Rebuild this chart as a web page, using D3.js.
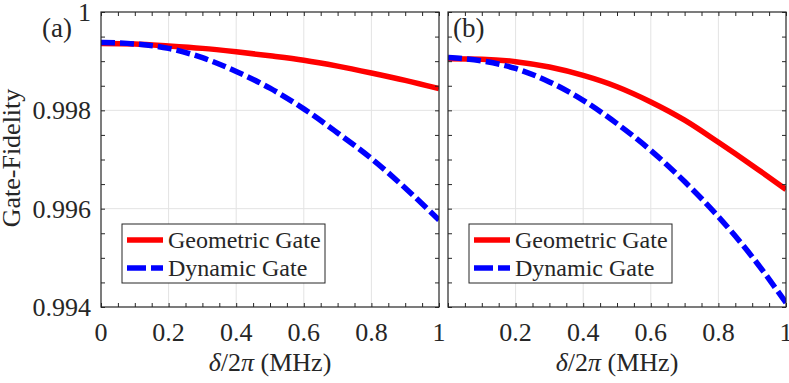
<!DOCTYPE html>
<html>
<head>
<meta charset="utf-8">
<script src="https://cdn.jsdelivr.net/npm/d3@7"></script>
<style>
  body { margin: 0; background: #fff; }
  svg { display: block; }
</style>
</head>
<body>
<div id="chart"></div>
<script>
// #### data
const detuning = [0, 0.1, 0.2, 0.3, 0.4, 0.5, 0.6, 0.7, 0.8, 0.9, 1.0];

// panel (a)
const geometricA = [0.99936, 0.99935, 0.99931, 0.99926, 0.99919, 0.99911, 0.99902, 0.99890, 0.99876, 0.99861, 0.99844];
const dynamicA   = [0.99938, 0.99935, 0.99926, 0.99907, 0.99879, 0.99845, 0.99803, 0.99754, 0.99702, 0.99642, 0.99577];

// panel (b)
const geometricB = [0.99905, 0.99904, 0.99899, 0.99888, 0.99871, 0.99848, 0.99817, 0.99780, 0.99735, 0.99688, 0.99639];
const dynamicB   = [0.999075, 0.999006, 0.998851, 0.998578, 0.998204, 0.997729, 0.997184, 0.996551, 0.995837, 0.995020, 0.994088];

const seriesNames = ['Geometric Gate', 'Dynamic Gate'];
const yTickLabels = ['0.994', '0.996', '0.998', '1'];
const xTickLabels = ['0', '0.2', '0.4', '0.6', '0.8', '1'];

// #### layout
const width = 789, height = 383;
const plotTop = 12, plotBottom = 307;
const panels = [
  { id: 'a', left: 101, right: 439, geo: geometricA, dyn: dynamicA, showY: true, showX0: true },
  { id: 'b', left: 448, right: 786, geo: geometricB, dyn: dynamicB, showY: false, showX0: false },
];
const colors = { geo: '#ff0000', dyn: '#0000ff' };
const axisColor = '#262626';
const fontSize = 26;
const legendFontSize = 24;
const lineWidth = 5.5;
const serif = "'Liberation Serif', 'DejaVu Serif', serif";

const svg = d3.select('#chart').append('svg')
  .attr('width', width)
  .attr('height', height)
  .attr('font-family', serif)
  .style('font-family', serif);

const y = d3.scaleLinear().domain([+yTickLabels[0], +yTickLabels[yTickLabels.length - 1]]).range([plotBottom, plotTop]);
const yMajor = yTickLabels.map(Number);
const yMinor = d3.range(0, 13).map(i => 0.994 + i * 0.0005);
const xMajor = xTickLabels.map(Number);
const xMinor = d3.range(0, 21).map(i => i * 0.05);

const addText = (sel, size = fontSize) => sel.append('text')
  .attr('font-family', serif)
  .attr('font-size', size)
  .attr('fill', axisColor);

panels.forEach(p => {
  const x = d3.scaleLinear().domain([0, 1]).range([p.left, p.right]);
  const g = svg.append('g');

  // gridlines at the major ticks
  g.selectAll('.gx').data(xMajor.slice(1, -1)).enter().append('line')
    .attr('x1', d => x(d)).attr('x2', d => x(d))
    .attr('y1', plotTop).attr('y2', plotBottom)
    .attr('stroke', '#e3e3e3').attr('stroke-width', 1);
  g.selectAll('.gy').data(yMajor.slice(1, -1)).enter().append('line')
    .attr('x1', p.left).attr('x2', p.right)
    .attr('y1', d => y(d)).attr('y2', d => y(d))
    .attr('stroke', '#e3e3e3').attr('stroke-width', 1);

  // curves, clipped to the axes box
  svg.append('clipPath').attr('id', 'clip-' + p.id)
    .append('rect').attr('x', p.left).attr('y', plotTop)
    .attr('width', p.right - p.left).attr('height', plotBottom - plotTop);

  const line = d3.line()
    .x((d, i) => x(detuning[i]))
    .y(d => y(d))
    .curve(d3.curveMonotoneX);

  const curves = g.append('g').attr('clip-path', `url(#clip-${p.id})`);
  curves.append('path').datum(p.geo)
    .attr('d', line)
    .attr('fill', 'none').attr('stroke', colors.geo).attr('stroke-width', lineWidth);
  curves.append('path').datum(p.dyn)
    .attr('d', line)
    .attr('fill', 'none').attr('stroke', colors.dyn).attr('stroke-width', lineWidth)
    .attr('stroke-dasharray', '14,5');

  // tick marks, inward, on all four sides
  const tickLen = 4;
  g.append('g').attr('transform', `translate(0,${plotBottom})`)
    .call(d3.axisTop(x).tickValues(xMinor).tickSize(tickLen).tickFormat(''));
  g.append('g').attr('transform', `translate(0,${plotTop})`)
    .call(d3.axisBottom(x).tickValues(xMinor).tickSize(tickLen).tickFormat(''));
  g.append('g').attr('transform', `translate(${p.left},0)`)
    .call(d3.axisRight(y).tickValues(yMinor).tickSize(tickLen).tickFormat(''));
  g.append('g').attr('transform', `translate(${p.right},0)`)
    .call(d3.axisLeft(y).tickValues(yMinor).tickSize(tickLen).tickFormat(''));
  g.selectAll('.domain').remove();
  g.selectAll('.tick line').attr('stroke', axisColor);

  // box
  g.append('rect')
    .attr('x', p.left).attr('y', plotTop)
    .attr('width', p.right - p.left).attr('height', plotBottom - plotTop)
    .attr('fill', 'none').attr('stroke', axisColor).attr('stroke-width', 1.2);

  // x tick labels
  const xLabels = p.showX0 ? xTickLabels : xTickLabels.slice(1);
  xLabels.forEach(d => {
    addText(g)
      .attr('x', x(+d)).attr('y', plotBottom + 34)
      .attr('text-anchor', 'middle')
      .text(d);
  });

  // y tick labels
  if (p.showY) {
    yTickLabels.forEach(d => {
      addText(g)
        .attr('x', p.left - 10).attr('y', y(+d))
        .attr('dy', '0.35em')
        .attr('text-anchor', 'end')
        .text(d);
    });
  }

  // x axis title
  const xt = addText(g)
    .attr('x', (p.left + p.right) / 2).attr('y', plotBottom + 64)
    .attr('text-anchor', 'middle');
  xt.append('tspan').attr('font-style', 'italic').text('δ');
  xt.append('tspan').text('/2');
  xt.append('tspan').attr('font-style', 'italic').text('π');
  xt.append('tspan').text(' (MHz)');

  // panel letter
  addText(g, 27)
    .attr('x', p.id === 'a' ? 42 : p.left + 5).attr('y', 37)
    .text(`(${p.id})`);

  // legend
  const lx = p.left + 21, ly = 224;
  const legend = g.append('g');
  legend.append('rect')
    .attr('x', lx).attr('y', ly)
    .attr('width', 203).attr('height', 59)
    .attr('fill', '#fff').attr('stroke', axisColor).attr('stroke-width', 1);
  seriesNames.forEach((name, i) => {
    const yy = ly + 16 + i * 28;
    legend.append('line')
      .attr('x1', lx + 5).attr('x2', lx + 41)
      .attr('y1', yy).attr('y2', yy)
      .attr('stroke', i === 0 ? colors.geo : colors.dyn)
      .attr('stroke-width', lineWidth)
      .attr('stroke-dasharray', i === 0 ? null : '19,5');
    addText(legend, legendFontSize)
      .attr('x', lx + 46).attr('y', yy)
      .attr('dy', '0.33em')
      .text(name);
  });
});

// y axis title
addText(svg)
  .attr('transform', 'translate(20,158) rotate(-90)')
  .attr('text-anchor', 'middle')
  .text('Gate-Fidelity');
</script>
</body>
</html>
